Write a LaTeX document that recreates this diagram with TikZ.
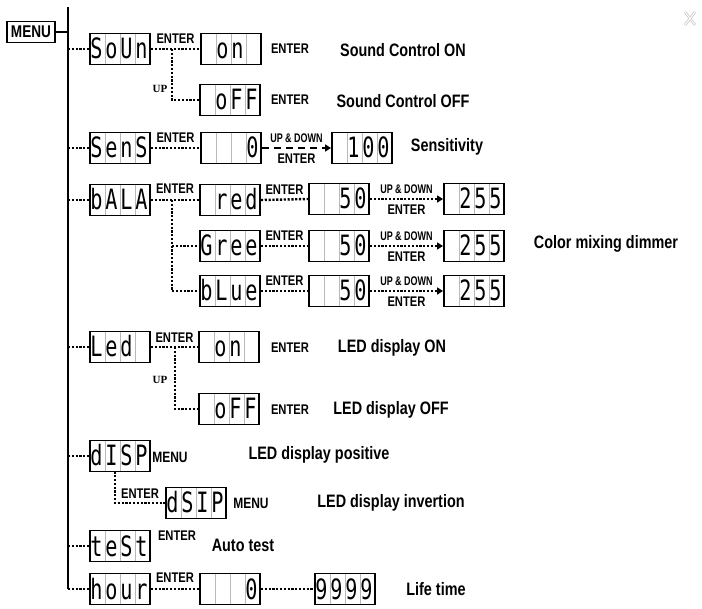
\documentclass[tikz,border=0pt]{standalone}
\usepackage{fontspec}
\setmainfont{Liberation Sans}
\newfontfamily\labfont{Liberation Sans}[FakeStretch=0.8]
\newfontfamily\udfont{Liberation Sans}[FakeStretch=0.72]
\newfontfamily\segfont{DejaVu Sans Mono}[FakeStretch=0.72]
\newfontfamily\upfont{Liberation Serif}
\usetikzlibrary{arrows.meta,calc}

\newcommand\lcd[6]{%
  \node[lcdbox] (#1) at (#2) {};
  \node[seg] (#1c1) at ([xshift=7.5pt,yshift=-10pt]#1.west) {#3};
  \node[seg] (#1c2) at ([xshift=22.5pt,yshift=-10pt]#1.west) {#4};
  \node[seg] (#1c3) at ([xshift=37.5pt,yshift=-10pt]#1.west) {#5};
  \node[seg] (#1c4) at ([xshift=52.5pt,yshift=-10pt]#1.west) {#6};
}

\begin{document}
\begin{tikzpicture}[x=1pt,y=-1pt,
  lcdbox/.style={draw, line width=1.9pt, minimum width=60pt, minimum height=31pt, inner sep=0pt,
    path picture={\foreach \i in {1,2,3}{\draw[gray!55, line width=0.7pt]
      ([xshift=\i*15pt]path picture bounding box.south west) --
      ([xshift=\i*15pt]path picture bounding box.north west);}}},
  seg/.style={font=\segfont\fontsize{28}{28}\selectfont, anchor=base, inner sep=0pt},
  big/.style={font=\labfont\bfseries\fontsize{18}{20}\selectfont, inner sep=0pt},
  ent/.style={font=\labfont\bfseries\fontsize{14}{16}\selectfont, inner sep=0pt},
  ud/.style={font=\udfont\bfseries\fontsize{12.5}{14}\selectfont, inner sep=0pt},
  uplab/.style={font=\upfont\bfseries\fontsize{11}{12}\selectfont, inner sep=0pt},
  mainline/.style={line width=2.4pt},
  dots/.style={line width=2.4pt, dash pattern=on 2.2pt off 1.6pt},
  dashline/.style={line width=2.2pt, dash pattern=on 7pt off 5pt},
  tip/.style={-{Triangle[length=6pt,width=7pt]}}
]
\useasboundingbox (0,0) rectangle (702,609);

% close mark
\draw[draw=gray!55, line width=0.6pt, double=white, double distance=1.2pt] (685,12) -- (695,25) (695,12) -- (685,25);

% MENU and main trunk
\node[draw, line width=1.9pt, minimum width=48pt, minimum height=21pt, inner sep=0pt,
      font=\labfont\bfseries\fontsize{17}{19}\selectfont] (menu) at (31,32) {MENU};
\coordinate (top) at (68,7);
\coordinate (bot) at (68,589);
\draw[mainline] (top) -- (bot);
\draw[mainline] (menu.east) -- (menu.east -| top);

% column A
\lcd{soun}{120,49}{S}{o}{U}{n}
\lcd{sens}{120,148}{S}{e}{n}{S}
\lcd{bala}{120,200}{b}{A}{L}{A}
\lcd{led}{120,347}{L}{e}{d}{}
\lcd{disp}{120,456}{d}{I}{S}{P}
\lcd{dsip}{196,503}{d}{S}{I}{P}
\lcd{test}{120,546}{t}{e}{S}{t}
\lcd{hour}{120,589}{h}{o}{u}{r}

% column B
\lcd{on1}{231,49}{}{o}{n}{}
\lcd{off1}{230,100}{}{o}{F}{F}
\lcd{zero}{231,148}{}{}{}{0}
\lcd{red}{230,200}{}{r}{e}{d}
\lcd{gree}{230,246}{G}{r}{e}{e}
\lcd{blue}{230,291}{b}{L}{u}{e}
\lcd{on2}{229,347}{}{o}{n}{}
\lcd{off2}{229,409}{}{o}{F}{F}
\lcd{zerob}{230,589}{}{}{}{0}

% further columns
\lcd{hund}{362,148}{}{1}{0}{0}
\lcd{fa}{339,199}{}{}{5}{0}
\lcd{fb}{339,246}{}{}{5}{0}
\lcd{fc}{339,291}{}{}{5}{0}
\lcd{ta}{474,199}{}{2}{5}{5}
\lcd{tb}{474,246}{}{2}{5}{5}
\lcd{tc}{474,291}{}{2}{5}{5}
\lcd{nines}{345,589}{9}{9}{9}{9}

% trunk branches
\foreach \n in {soun,sens,bala,led,disp,test}
  \draw[dots] (\n.west -| top) -- (\n.west);
\draw[dots] (bot) -- (hour.west);

% Sound
\draw[dots] (soun.east) -- node[ent, above=4pt] (e1) {ENTER} (on1.west);
\coordinate (j1) at (172,49);
\draw[dots] (j1) |- (off1.west);
\node[uplab] (up1) at (160,89) {UP};
\node[ent] (e2) at (290,49) {ENTER};
\node[big] (t1) at (403,50) {Sound Control ON};
\node[ent] (e3) at (290,100) {ENTER};
\node[big] (t2) at (403,101) {Sound Control OFF};

% Sensitivity
\draw[dots] (sens.east) -- node[ent, above=4pt] (e4) {ENTER} (zero.west);
\draw[dashline, tip] (zero.east) -- node[ud, above=4pt] (u1) {UP \& DOWN}
   node[ent, below=5pt] (e5) {ENTER} (hund.west);
\node[big] (t3) at (447,147) {Sensitivity};

% Balance
\draw[dots] (bala.east) -- node[ent, above=5pt] (e6) {ENTER} (red.west);
\coordinate (j3) at (172,200);
\draw[dots] (j3) |- (blue.west);
\draw[dots] (j3 |- gree.west) -- (gree.west);
\draw[dots] (red.east) -- node[ent, above=4pt] (e7) {ENTER} (fa.west);
\draw[dots] (gree.east) -- node[ent, above=4pt] (e8) {ENTER} (fb.west);
\draw[dots] (blue.east) -- node[ent, above=4pt] (e9) {ENTER} (fc.west);
\draw[dots, tip] (fa.east) -- node[ud, above=4pt] (u2) {UP \& DOWN} node[ent, below=5pt] (e10) {ENTER} (ta.west);
\draw[dots, tip] (fb.east) -- node[ud, above=4pt] (u3) {UP \& DOWN} node[ent, below=5pt] (e11) {ENTER} (tb.west);
\draw[dots, tip] (fc.east) -- node[ud, above=4pt] (u4) {UP \& DOWN} node[ent, below=5pt] (e12) {ENTER} (tc.west);
\node[big] (t4) at (606,244) {Color mixing dimmer};

% LED
\draw[dots] (led.east) -- node[ent, above=3pt] (e13) {ENTER} (on2.west);
\coordinate (j4) at (175,347);
\draw[dots] (j4) |- (off2.west);
\node[uplab] (up2) at (160,380) {UP};
\node[ent] (e14) at (290,348) {ENTER};
\node[big] (t5) at (392,348) {LED display ON};
\node[ent] (e15) at (290,410) {ENTER};
\node[big] (t6) at (391,410) {LED display OFF};

% display direction
\node[ent, font=\labfont\bfseries\fontsize{15}{17}\selectfont] (m1) at (170,457) {MENU};
\node[big] (t7) at (319,455) {LED display positive};
\coordinate (j5) at (115,471.5);
\draw[dots] (j5) |- node[ent, pos=0.75, above=3pt] (e16) {ENTER} (dsip.west);
\node[ent, font=\labfont\bfseries\fontsize{15}{17}\selectfont] (m2) at (251,503) {MENU};
\node[big] (t8) at (391,503) {LED display invertion};

% test
\node[ent] (e17) at (177,536) {ENTER};
\node[big] (t9) at (243,545) {Auto test};

% hour
\draw[dots] (hour.east) -- node[ent, above=5pt] (e18) {ENTER} (zerob.west);
\draw[dots] (zerob.east) -- (nines.west);
\node[big] (t10) at (436,589) {Life time};
\end{tikzpicture}
\end{document}
